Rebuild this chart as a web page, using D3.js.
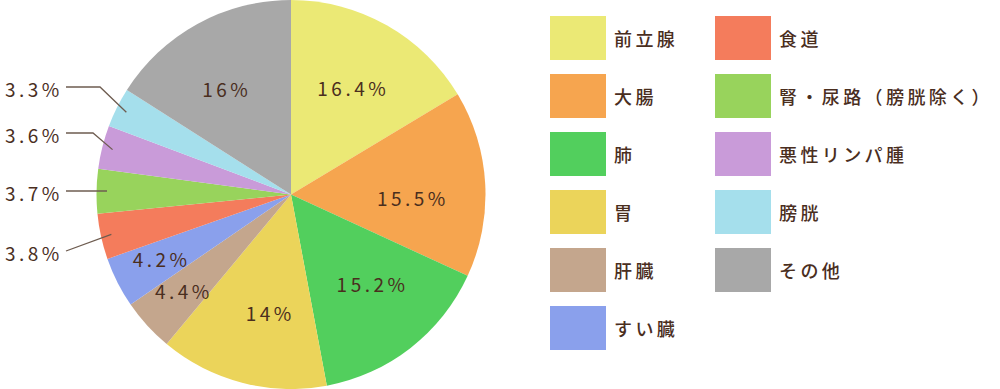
<!DOCTYPE html>
<html>
<head>
<meta charset="utf-8">
<script src="https://cdn.jsdelivr.net/npm/d3@7"></script>
<style>
  body { margin: 0; background: #fff; }
  svg { display: block; font-family: "Noto Sans CJK JP", "Noto Sans", sans-serif; }
</style>
</head>
<body>
<script>
// data
var categories = ["前立腺", "大腸", "肺", "胃", "肝臓", "すい臓", "食道", "腎・尿路（膀胱除く）", "悪性リンパ腫", "膀胱", "その他"];
var values = [16.4, 15.5, 15.2, 14, 4.4, 4.2, 3.8, 3.7, 3.6, 3.3, 16];
var colors = ["#ebe975", "#f6a54f", "#52cf5d", "#ebd45a", "#c4a68d", "#8aa0ec", "#f47c5c", "#98d35c", "#c99bd9", "#a5dfec", "#a8a8a8"];

var width = 1000, height = 389;
var cx = 291, cy = 194.5, radius = 194.5;
var textColor = "#4a2e1e";

// label layout: small angle nudges (degrees) for inside labels
var nudge = [1.2, 5.6, -4, -4.8, 0, 0, 0, 0, 0, 0, -3];
// labels drawn outside the pie (index -> label y, elbow x)
var outside = { 6: { y: 254, elbow: null }, 7: { y: 194, elbow: null }, 8: { y: 136, elbow: 93 }, 9: { y: 90, elbow: 100 } };
var smallInside = [4, 5];

var svg = d3.select("body").append("svg")
    .attr("width", width)
    .attr("height", height);

var pie = d3.pie().sort(null).value(function (d) { return d; });
var arcs = pie(values);

var arc = d3.arc().innerRadius(0).outerRadius(radius);
var edgeArc = d3.arc().innerRadius(184).outerRadius(184);

var g = svg.append("g").attr("transform", "translate(" + cx + "," + cy + ")");

g.selectAll("path")
    .data(arcs)
    .enter().append("path")
    .attr("d", arc)
    .attr("fill", function (d, i) { return colors[i]; });

function labelPos(d) {
    var r = smallInside.indexOf(d.index) >= 0 ? 145 : 122;
    var a = (d.startAngle + d.endAngle) / 2 + nudge[d.index] * Math.PI / 180;
    return [r * Math.sin(a), -r * Math.cos(a)];
}

// inside labels
g.selectAll("text.in")
    .data(arcs.filter(function (d) { return !outside[d.index]; }))
    .enter().append("text")
    .attr("class", "in")
    .attr("transform", function (d) { return "translate(" + labelPos(d) + ")"; })
    .attr("text-anchor", "middle")
    .attr("dy", "0.35em")
    .attr("fill", textColor)
    .style("font-size", "19px")
    .style("letter-spacing", "3.5px")
    .text(function (d) { return d.data + "%"; });

// outside labels with leader lines
arcs.forEach(function (d) {
    var o = outside[d.index];
    if (!o) return;
    var p = edgeArc.centroid(d);
    var px = p[0] + cx, py = p[1] + cy;
    var ly = o.y - 3;
    var pts = [[66, ly]];
    if (o.elbow !== null) pts.push([o.elbow, ly]);
    pts.push([px, d.index === 7 ? ly : py]);
    svg.append("path")
        .attr("d", d3.line()(pts))
        .attr("fill", "none")
        .attr("stroke", "#6e5c50")
        .attr("stroke-width", 1.3);
    svg.append("text")
        .attr("x", 5)
        .attr("y", o.y)
        .attr("dy", "0.35em")
        .attr("fill", textColor)
        .style("font-size", "19px")
        .style("letter-spacing", "3.5px")
        .text(d.data + "%");
});

// legend
var legend = svg.append("g");
var item = legend.selectAll("g")
    .data(categories)
    .enter().append("g")
    .attr("transform", function (d, i) {
        var col = i < 6 ? 0 : 1, row = i < 6 ? i : i - 6;
        return "translate(" + (550 + col * 165) + "," + (16 + row * 58) + ")";
    });

item.append("rect")
    .attr("width", 56)
    .attr("height", 44)
    .attr("fill", function (d, i) { return colors[i]; });

item.append("text")
    .attr("x", 64)
    .attr("y", 24)
    .attr("dy", "0.35em")
    .attr("fill", textColor)
    .style("font-size", "18px")
    .style("font-weight", "500")
    .style("letter-spacing", "3.4px")
    .text(function (d) { return d; });
</script>
</body>
</html>
